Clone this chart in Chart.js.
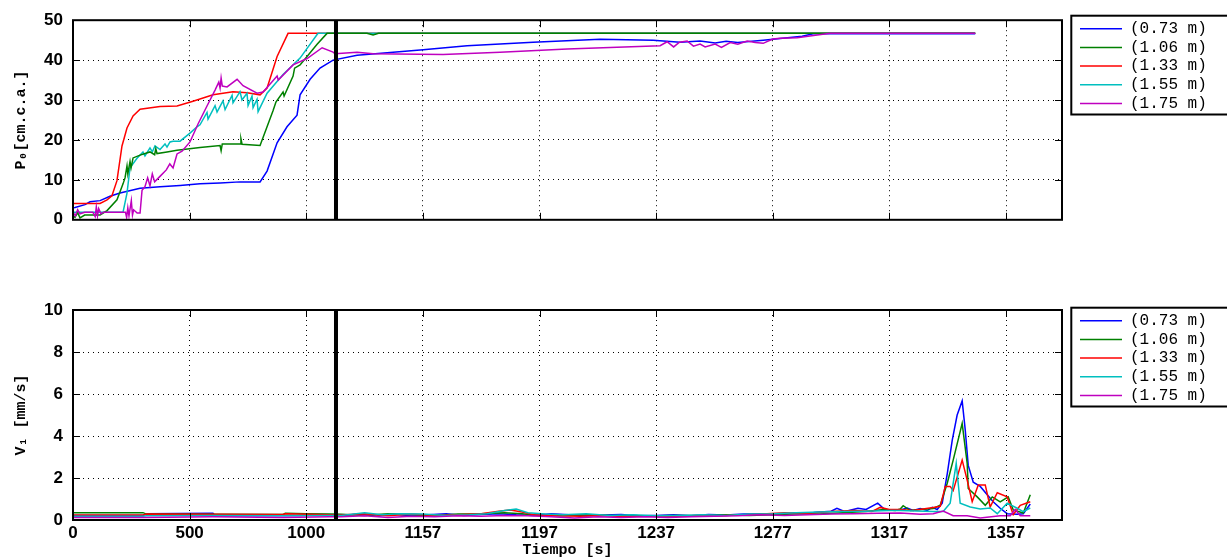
<!DOCTYPE html>
<html><head><meta charset="utf-8">
<script src="https://cdn.jsdelivr.net/npm/chart.js@4.4.1/dist/chart.umd.min.js"></script>
<style>
html,body{margin:0;padding:0;background:#fff;overflow:hidden;width:1227px;height:559px}
#w1{position:absolute;left:0;top:0;width:1227px;height:240px}
#w2{position:absolute;left:0;top:280px;width:1227px;height:279px}
</style></head><body>
<div id="w1"><canvas id="c1" width="1227" height="240"></canvas></div>
<div id="w2"><canvas id="c2" width="1227" height="279"></canvas></div>
<script>
// x positions are in axis-tick units: tick i carries label tickLabels[i]
const tickLabels = ['0','500','1000','1157','1197','1237','1277','1317','1357'];
const seriesNames = ['(0.73 m)','(1.06 m)','(1.33 m)','(1.55 m)','(1.75 m)'];
const seriesColors = ['#0000ff','#008000','#ff0000','#00bfbf','#bf00bf'];
const breakTime = 2.255;
const xMax = 8.48;

// ---- Top panel: P0 [cm.c.a.]
const p0_073 = [[0,3.0],[0.017,3.1],[0.103,3.8],[0.146,4.5],[0.232,4.8],[0.317,5.9],[0.403,6.7],[0.575,7.9],[0.746,8.3],[0.918,8.6],[1.089,9.0],[1.261,9.2],[1.432,9.5],[1.604,9.5],[1.664,12.2],[1.750,19.3],[1.835,23.3],[1.921,26.2],[1.947,31.3],[2.033,35.2],[2.118,38.0],[2.230,40.0],[2.436,41.2],[3.002,42.6],[3.379,43.6],[3.945,44.5],[4.520,45.2],[4.974,45.0],[5.206,44.5],[5.377,44.8],[5.506,44.3],[5.60,44.7],[5.70,44.4],[5.918,45.0],[6.252,46.0],[6.346,46.6],[7.736,46.6]];
const p0_106 = [[0,1.0],[0.017,0.6],[0.04,1.8],[0.06,0.5],[0.10,1.2],[0.232,1.2],[0.292,2.3],[0.377,5.0],[0.429,9.0],[0.446,10.5],[0.463,13.5],[0.470,11.5],[0.489,14.6],[0.498,13.0],[0.515,15.5],[0.575,16.2],[0.660,17.0],[0.700,16.3],[0.710,17.8],[0.720,16.6],[0.806,17.0],[0.892,17.4],[1.089,18.1],[1.261,18.6],[1.270,17.3],[1.280,19.0],[1.432,19.0],[1.440,20.3],[1.450,18.9],[1.604,18.6],[1.715,27.3],[1.740,29.5],[1.801,32.0],[1.810,31.0],[1.887,36.0],[1.900,38.0],[1.947,38.8],[2.093,44.0],[2.178,46.7],[2.52,46.7],[2.573,46.3],[2.62,46.7],[7.736,46.7]];
const p0_133 = [[0,4.1],[0.232,4.1],[0.292,5.0],[0.334,6.0],[0.377,9.8],[0.420,18.5],[0.463,23.0],[0.515,26.0],[0.575,27.7],[0.746,28.4],[0.892,28.5],[1.029,29.7],[1.201,31.3],[1.372,32.1],[1.492,31.8],[1.604,31.3],[1.664,33.0],[1.750,40.9],[1.844,46.7],[7.736,46.7]];
const p0_155 = [[0,1.9],[0.429,1.9],[0.463,6.7],[0.489,13.0],[0.549,15.4],[0.600,17.0],[0.617,16.0],[0.660,18.0],[0.680,17.0],[0.703,18.5],[0.746,17.6],[0.789,19.0],[0.806,18.2],[0.832,19.5],[0.858,19.7],[0.918,19.7],[1.003,21.7],[1.063,23.3],[1.089,23.8],[1.149,26.9],[1.158,25.2],[1.218,28.6],[1.235,27.0],[1.286,29.8],[1.304,27.6],[1.364,31.2],[1.372,29.3],[1.432,32.1],[1.449,30.0],[1.492,31.7],[1.501,28.6],[1.535,31.0],[1.544,28.1],[1.578,30.2],[1.587,27.1],[1.664,31.7],[1.801,36.4],[1.947,40.5],[2.093,46.4],[2.101,46.7],[7.736,46.7]];
const p0_175 = [[0,1.9],[0.02,1.0],[0.04,2.5],[0.06,1.5],[0.10,1.9],[0.17,1.9],[0.19,0.8],[0.20,3.2],[0.21,1.0],[0.22,2.8],[0.24,1.5],[0.26,1.9],[0.40,1.9],[0.45,1.9],[0.46,0.6],[0.47,3.0],[0.48,1.0],[0.50,4.8],[0.51,1.2],[0.52,2.5],[0.55,1.7],[0.575,1.7],[0.592,7.4],[0.617,8.3],[0.64,10.5],[0.66,8.5],[0.68,11.5],[0.70,9.5],[0.75,11.0],[0.80,12.5],[0.83,14.0],[0.858,13.0],[0.892,16.5],[0.935,17.2],[1.003,19.5],[1.072,24.0],[1.149,28.5],[1.218,32.5],[1.25,34.5],[1.261,33.0],[1.27,35.5],[1.28,33.5],[1.321,33.3],[1.407,35.2],[1.458,33.6],[1.578,31.7],[1.630,32.0],[1.750,36.0],[1.76,35.0],[1.887,38.8],[2.007,40.4],[2.136,43.1],[2.230,42.0],[2.247,41.6],[2.436,42.0],[2.573,41.6],[3.173,41.4],[3.662,42.0],[4.237,42.8],[4.666,43.2],[5.034,43.6],[5.094,44.6],[5.15,43.3],[5.20,44.5],[5.266,44.8],[5.32,43.5],[5.377,44.0],[5.42,43.3],[5.506,44.0],[5.56,43.2],[5.635,44.4],[5.70,44.0],[5.780,44.8],[5.85,44.4],[5.918,44.2],[6.00,45.3],[6.063,45.5],[6.209,45.6],[6.492,46.7],[7.736,46.7]];

// ---- Bottom panel: V1 [mm/s]
const v1_073 = [[0,0.22],[0.6,0.22],[0.63,0.3],[1.2,0.32],[1.22,0.2],[1.95,0.22],[2.2,0.25],[2.3,0.2],[2.45,0.28],[2.6,0.18],[2.75,0.27],[2.9,0.2],[3.05,0.25],[3.2,0.3],[3.35,0.22],[3.5,0.26],[3.65,0.3],[3.8,0.25],[3.95,0.22],[4.1,0.3],[4.25,0.25],[4.4,0.2],[4.55,0.24],[4.7,0.26],[4.85,0.2],[5.0,0.22],[5.15,0.25],[5.3,0.2],[5.45,0.26],[5.6,0.24],[5.75,0.28],[5.9,0.3],[6.05,0.24],[6.2,0.33],[6.35,0.36],[6.5,0.42],[6.55,0.56],[6.62,0.4],[6.73,0.56],[6.8,0.5],[6.9,0.8],[6.96,0.5],[7.093,0.48],[7.153,0.57],[7.204,0.45],[7.264,0.55],[7.324,0.45],[7.367,0.6],[7.41,0.5],[7.453,0.8],[7.496,2.2],[7.539,3.8],[7.581,5.0],[7.624,5.67],[7.65,4.3],[7.676,2.6],[7.719,1.8],[7.779,1.6],[7.839,1.2],[7.89,0.87],[7.95,0.56],[8.01,0.3],[8.096,0.27],[8.148,0.3],[8.208,0.76]];
const v1_106 = [[0,0.35],[0.6,0.35],[0.63,0.28],[1.8,0.26],[1.82,0.32],[2.0,0.3],[2.2,0.28],[2.3,0.27],[2.5,0.22],[2.7,0.3],[2.9,0.25],[3.1,0.2],[3.3,0.28],[3.5,0.3],[3.7,0.35],[3.85,0.3],[4.0,0.22],[4.2,0.2],[4.4,0.25],[4.6,0.22],[4.8,0.18],[5.0,0.2],[5.2,0.22],[5.4,0.2],[5.6,0.25],[5.8,0.22],[6.0,0.25],[6.2,0.3],[6.4,0.28],[6.6,0.35],[6.8,0.4],[6.95,0.5],[7.05,0.45],[7.093,0.52],[7.118,0.68],[7.179,0.45],[7.264,0.5],[7.376,0.55],[7.436,0.7],[7.496,1.75],[7.547,2.85],[7.624,4.6],[7.667,2.7],[7.676,1.5],[7.753,1.1],[7.822,0.7],[7.882,1.1],[7.95,0.86],[8.019,1.1],[8.062,0.48],[8.148,0.33],[8.208,1.2]];
const v1_133 = [[0,0.24],[0.6,0.24],[0.63,0.28],[1.8,0.26],[1.82,0.3],[2.2,0.25],[2.3,0.24],[2.5,0.3],[2.7,0.2],[2.9,0.28],[3.1,0.22],[3.3,0.25],[3.5,0.3],[3.65,0.42],[3.75,0.48],[3.85,0.38],[3.95,0.25],[4.15,0.2],[4.35,0.18],[4.55,0.22],[4.75,0.15],[4.95,0.2],[5.15,0.18],[5.35,0.22],[5.55,0.2],[5.75,0.25],[5.95,0.3],[6.1,0.35],[6.3,0.32],[6.5,0.4],[6.7,0.45],[6.85,0.4],[6.92,0.6],[7.0,0.5],[7.093,0.5],[7.2,0.45],[7.376,0.6],[7.436,0.65],[7.479,1.6],[7.521,1.6],[7.547,1.4],[7.624,2.85],[7.667,1.9],[7.71,0.87],[7.762,1.67],[7.822,1.67],[7.864,0.62],[7.925,1.3],[8.01,1.1],[8.062,0.25],[8.122,0.7],[8.208,0.87]];
const v1_155 = [[0,0.18],[0.6,0.18],[0.63,0.2],[1.2,0.22],[1.8,0.2],[2.2,0.22],[2.3,0.22],[2.5,0.35],[2.65,0.25],[2.8,0.3],[3.0,0.28],[3.2,0.22],[3.4,0.25],[3.55,0.3],[3.7,0.45],[3.8,0.52],[3.9,0.35],[4.05,0.28],[4.2,0.25],[4.4,0.3],[4.6,0.22],[4.8,0.25],[5.0,0.2],[5.2,0.22],[5.4,0.25],[5.6,0.22],[5.8,0.28],[6.0,0.3],[6.2,0.35],[6.4,0.38],[6.6,0.4],[6.8,0.42],[7.0,0.45],[7.093,0.45],[7.376,0.4],[7.461,0.4],[7.521,0.8],[7.573,2.7],[7.607,0.8],[7.693,0.62],[7.779,0.52],[7.864,0.57],[7.925,0.3],[8.01,0.8],[8.096,0.56],[8.148,0.4],[8.208,0.57]];
const v1_175 = [[0,0.12],[0.6,0.12],[1.2,0.15],[1.8,0.12],[2.2,0.15],[2.3,0.15],[2.5,0.2],[2.7,0.12],[2.9,0.18],[3.1,0.15],[3.3,0.2],[3.5,0.18],[3.7,0.22],[3.9,0.2],[4.1,0.15],[4.3,0.1],[4.5,0.15],[4.7,0.12],[4.9,0.16],[5.1,0.12],[5.3,0.15],[5.5,0.18],[5.7,0.2],[5.9,0.25],[6.1,0.22],[6.3,0.25],[6.5,0.28],[6.7,0.3],[6.9,0.32],[7.093,0.33],[7.264,0.27],[7.376,0.3],[7.461,0.43],[7.547,0.2],[7.667,0.2],[7.779,0.1],[7.95,0.2],[8.036,0.2],[8.079,0.5],[8.122,0.2],[8.208,0.2]];

const tickFont = {family:'"Liberation Sans", Arial, sans-serif', size:17, weight:'bold'};
const titleFont = {family:'"Liberation Mono", "DejaVu Sans Mono", monospace', size:15, weight:'bold'};
const legendFont = {family:'"Liberation Mono", "DejaVu Sans Mono", monospace', size:16};

const framePlugin = {
  id:'frame',
  afterDraw(chart){
    const {ctx, chartArea:a} = chart;
    const xs = chart.scales.x, ys = chart.scales.y;
    ctx.save();
    ctx.strokeStyle = '#000';
    ctx.lineWidth = 1;
    ctx.beginPath();
    xs.ticks.forEach(t => {
      const px = Math.round(xs.getPixelForValue(t.value)) + 0.5;
      if (px <= a.left + 1 || px >= a.right - 1) return;
      ctx.moveTo(px, a.top); ctx.lineTo(px, a.top + 7);
      ctx.moveTo(px, a.bottom); ctx.lineTo(px, a.bottom - 7);
    });
    ys.ticks.forEach(t => {
      const py = Math.round(ys.getPixelForValue(t.value)) + 0.5;
      if (py <= a.top + 1 || py >= a.bottom - 1) return;
      ctx.moveTo(a.left, py); ctx.lineTo(a.left + 7, py);
      ctx.moveTo(a.right, py); ctx.lineTo(a.right - 7, py);
    });
    ctx.stroke();
    ctx.lineWidth = 2;
    ctx.strokeRect(a.left, a.top, a.right - a.left, a.bottom - a.top);
    // legend frame
    const lg = chart.legend;
    if (lg && lg.legendHitBoxes && lg.legendHitBoxes.length) {
      const hb = lg.legendHitBoxes;
      const top = hb[0].top - 5;
      const last = hb[hb.length - 1];
      const bottom = last.top + last.height + 3;
      ctx.strokeRect(lg.left - 6, top, 300, bottom - top);
    }
    ctx.restore();
  }
};

function makeChart(id, series, order, yMax, yStep, yTitle, showX, padTop, xHeight) {
  const datasets = series.map((s, i) => ({
    label: seriesNames[i],
    data: s.map(p => ({x: p[0], y: p[1]})),
    borderColor: seriesColors[i],
    backgroundColor: seriesColors[i],
    borderWidth: 1.5,
    pointRadius: 0,
    tension: 0,
    order: order[i]
  }));
  datasets.push({
    label: 'break',
    data: [{x: breakTime, y: 0}, {x: breakTime, y: yMax}],
    borderColor: '#000',
    borderWidth: 4,
    pointRadius: 0,
    order: -20
  });
  return new Chart(document.getElementById(id), {
    type: 'line',
    data: {datasets},
    options: {
      responsive: false,
      animation: false,
      layout: {padding: {top: padTop, right: 19.7, left: 0, bottom: 0}},
      plugins: {
        tooltip: {enabled: false},
        legend: {
          position: 'right',
          align: 'start',
          maxWidth: 130,
          labels: {
            usePointStyle: true,
            pointStyle: 'line',
            pointStyleWidth: 42,
            padding: 2.7,
            color: '#000',
            font: legendFont,
            filter: item => item.datasetIndex < 5,
            sort: (a, b) => a.datasetIndex - b.datasetIndex
          }
        }
      },
      scales: {
        x: {
          type: 'linear', min: 0, max: xMax,
          afterFit: s => { s.height = xHeight; },
          ticks: {
            display: showX, stepSize: 1, includeBounds: false, autoSkip: false, maxRotation: 0,
            color: '#000', font: tickFont, padding: 3,
            callback: v => (Number.isInteger(v) && tickLabels[v] !== undefined) ? tickLabels[v] : ''
          },
          grid: {color: '#000', lineWidth: 1, drawTicks: false},
          border: {display: false, dash: [1, 4]},
          title: {display: showX, text: 'Tiempo [s]', color: '#000', font: titleFont, padding: {top: 0, bottom: 0}}
        },
        y: {
          min: 0, max: yMax,
          afterFit: s => { s.width = 73; },
          ticks: {stepSize: yStep, color: '#000', font: tickFont, padding: 10},
          grid: {color: '#000', lineWidth: 1, drawTicks: false},
          border: {display: false, dash: [1, 4]},
          title: {display: true, text: yTitle, color: '#000', font: titleFont, padding: {top: 12.5, bottom: 0}}
        },
        yR: {
          position: 'right', display: true,
          afterFit: s => { s.width = 15.3; },
          ticks: {display: false},
          grid: {display: false, drawTicks: false},
          border: {display: false}
        }
      }
    },
    plugins: [framePlugin]
  });
}

makeChart('c1', [p0_073, p0_106, p0_133, p0_155, p0_175], [0, -3, -1, -2, -4], 50, 10, 'P\u2080[cm.c.a.]', false, 18, 12);
makeChart('c2', [v1_073, v1_106, v1_133, v1_155, v1_175], [0, -1, -2, -3, -4], 10, 2, 'V\u2081 [mm/s]', true, 30, 39);
</script>
</body></html>
